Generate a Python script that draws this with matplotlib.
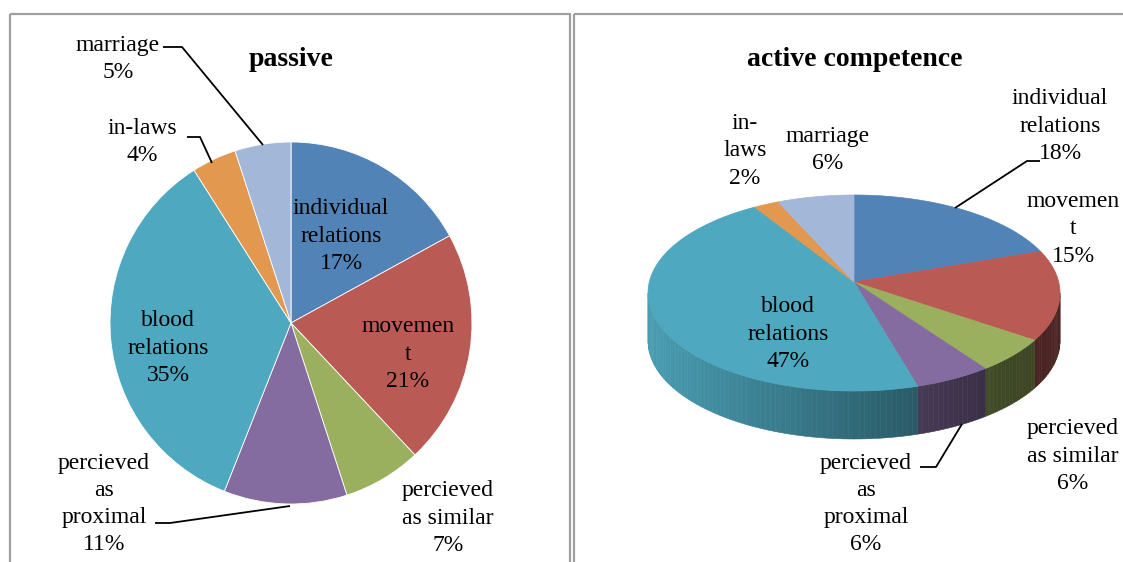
import numpy as np
import matplotlib
matplotlib.use("Agg")
import matplotlib.pyplot as plt
from matplotlib.patches import Polygon, Rectangle
from matplotlib.colors import to_rgb

# ---------------- data ----------------
categories = ["individual relations", "movement", "percieved as similar",
              "percieved as proximal", "blood relations", "in-laws", "marriage"]
passive_values = [17, 21, 7, 11, 35, 4, 5]
active_values = [18, 15, 6, 6, 47, 2, 6]
passive_title = "passive"
active_title = "active competence"
# label text as wrapped in the chart
passive_labels = ["individual\nrelations", "movemen\nt", "percieved\nas similar",
                  "percieved\nas\nproximal", "blood\nrelations", "in-laws", "marriage"]
active_labels = ["individual\nrelations", "movemen\nt", "percieved\nas similar",
                 "percieved\nas\nproximal", "blood\nrelations", "in-\nlaws", "marriage"]

# ---------------- style ----------------
colors = ["#5283B7", "#B95A55", "#9BB05E", "#846CA0", "#4EA8BF", "#E2984F", "#A3B7D9"]
FONT = ["Liberation Serif", "DejaVu Serif"]
FS = 17
TFS = 20
LS = 1.38

W, H = 1123, 562
fig = plt.figure(figsize=(W / 100, H / 100), dpi=100)
ax = fig.add_axes([0, 0, 1, 1])

# ---------------- panel borders ----------------
ax.add_patch(Rectangle((10, 14), 560, 600, fill=False, ec="#A0A0A0", lw=1.6, zorder=0))
ax.add_patch(Rectangle((574, 14), 600, 600, fill=False, ec="#A0A0A0", lw=1.6, zorder=0))

# ---------------- left pie (flat) ----------------
pc = (291, 323)
pr = 181
ax.pie(passive_values, colors=colors, center=pc, radius=pr, startangle=-90,
       counterclock=True, wedgeprops=dict(linewidth=0.6, edgecolor="white"))

ax.text(291, 60, passive_title, ha="center", va="center", fontsize=TFS,
        fontweight="bold", family=FONT)

passive_pos = [(341, 236), (408, 354), (448, 518), (104, 504), (168, 348), (142, 142), (118, 59)]
for lab, v, (x, y) in zip(passive_labels, passive_values, passive_pos):
    ax.text(x, y, f"{lab}\n{v}%", ha="center", va="center", fontsize=FS,
            family=FONT, linespacing=LS, color="black")

leader_kw = dict(color="black", lw=1.3, solid_capstyle="butt")
ax.plot([163, 182, 263], [47, 47, 145], **leader_kw)
ax.plot([187, 200, 212], [137, 137, 163], **leader_kw)
ax.plot([155, 170, 290], [523, 523, 506], **leader_kw)

# ---------------- right pie (3-D look) ----------------
cx, cy = 854, 293
a, b = 206, 98
apex = (854, 282)
depth = 48


def pt(phi_deg, dy=0.0):
    p = np.deg2rad(phi_deg)
    return cx + a * np.cos(p), cy - b * np.sin(p) + dy


cum = np.concatenate([[0], np.cumsum(active_values)]) / np.sum(active_values)
starts = 90 - 360 * cum[:-1]
ends = 90 - 360 * cum[1:]


def shade(c, f):
    r, g, bb = to_rgb(c)
    return (r * f, g * f, bb * f)

# sides (front half only, where sin(phi) < 0)
for s, e, c in zip(starts, ends, colors):
    hi, lo = s, e
    for shift in (0, -360, 360):
        h2, l2 = hi + shift, lo + shift
        seg_lo = max(l2, -180)
        seg_hi = min(h2, 0)
        if seg_hi <= seg_lo:
            continue
        n = max(2, int((seg_hi - seg_lo) / 1.5) + 1)
        phis = np.linspace(seg_lo, seg_hi, n)
        for p1, p2 in zip(phis[:-1], phis[1:]):
            pm = 0.5 * (p1 + p2)
            f = min(0.93, max(0.40, 0.63 - 0.30 * np.cos(np.deg2rad(pm))))
            x1, y1 = pt(p1)
            x2, y2 = pt(p2)
            poly = Polygon([(x1, y1), (x2, y2), (x2, y2 + depth), (x1, y1 + depth)],
                           closed=True, fc=shade(c, f), ec=shade(c, f), lw=0.4, zorder=2)
            ax.add_patch(poly)

# top faces
for s, e, c in zip(starts, ends, colors):
    phis = np.linspace(s, e, max(3, int(abs(s - e)) + 2))
    xs, ys = pt(phis)
    verts = [apex] + list(zip(xs, ys))
    ax.add_patch(Polygon(verts, closed=True, fc=c, ec=c, lw=0.5, zorder=3))

ax.text(855, 60, active_title, ha="center", va="center", fontsize=TFS,
        fontweight="bold", family=FONT)

active_pos = [(1060, 126), (1073, 229), (1073, 456), (866, 504), (788, 334), (745, 151), (828, 150)]
for lab, v, (x, y) in zip(active_labels, active_values, active_pos):
    ax.text(x, y, f"{lab}\n{v}%", ha="center", va="center", fontsize=FS,
            family=FONT, linespacing=LS, color="black", zorder=5)

ax.plot([1040, 1027, 955], [161, 161, 208], zorder=5, **leader_kw)
ax.plot([920, 936, 962], [467, 467, 424], zorder=5, **leader_kw)

ax.set_xlim(0, W)
ax.set_ylim(H, 0)
ax.set_aspect("auto")
ax.axis("off")

fig.savefig("out.png", dpi=100, facecolor="white")
